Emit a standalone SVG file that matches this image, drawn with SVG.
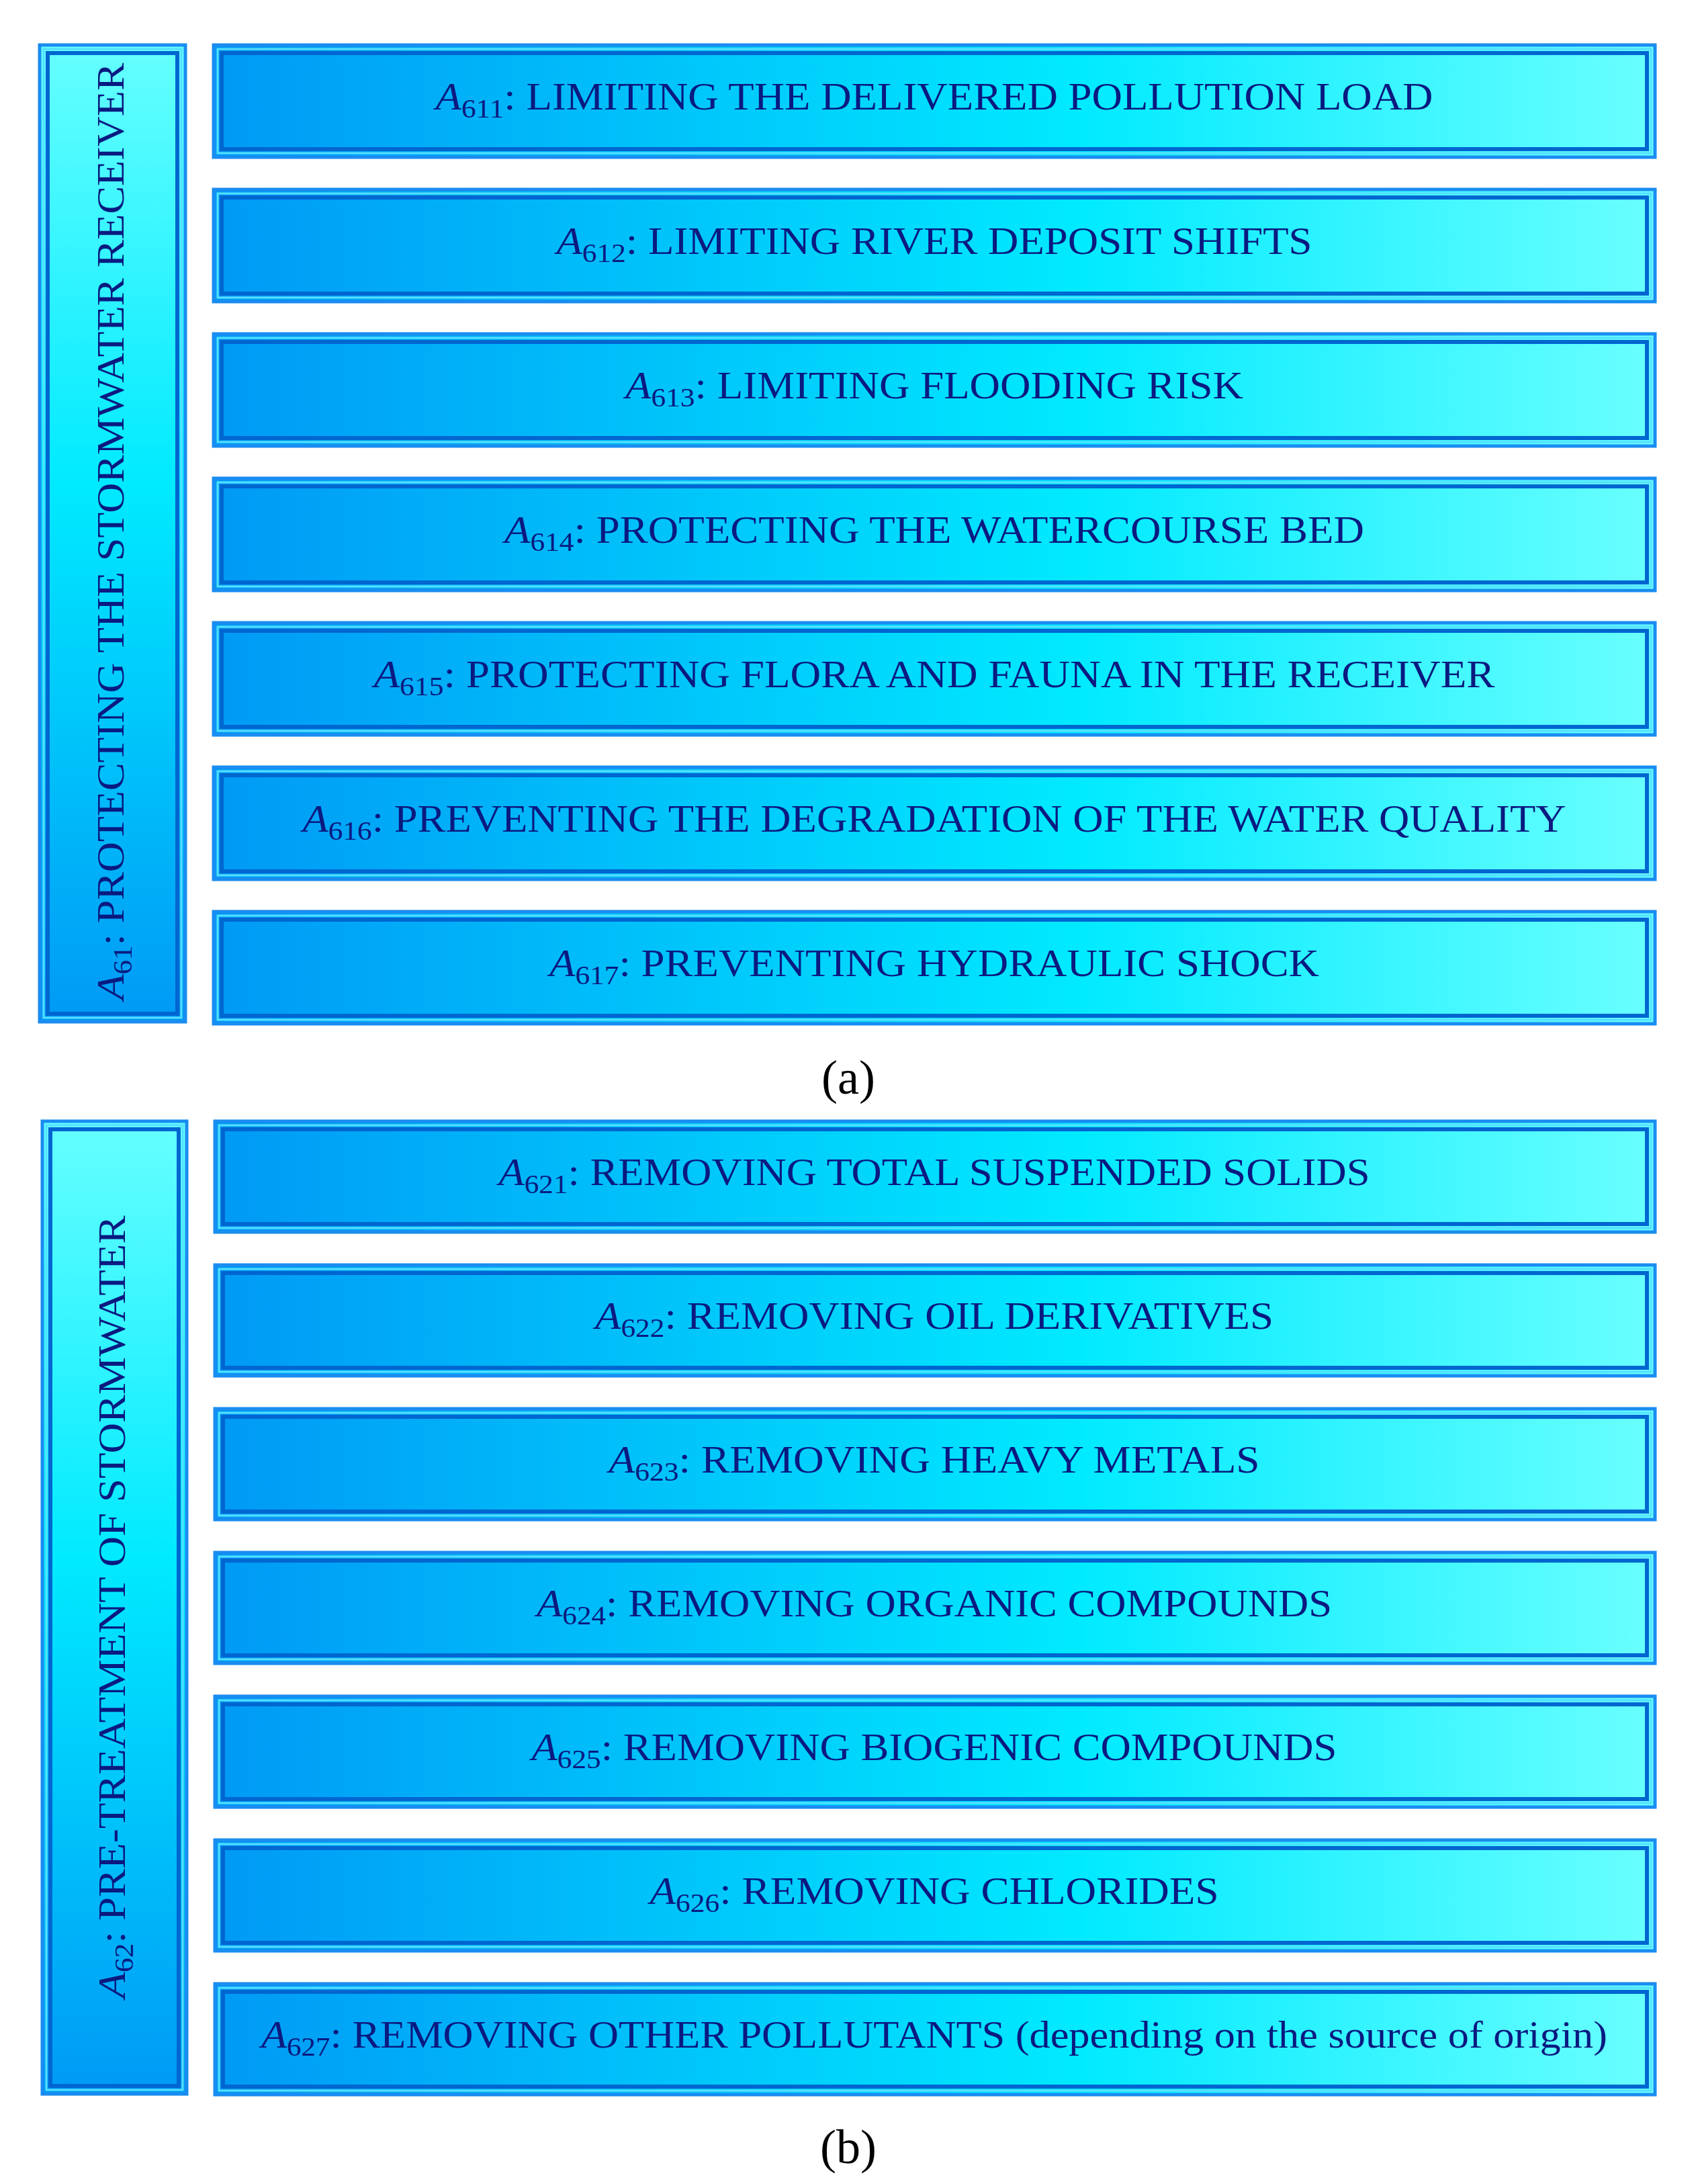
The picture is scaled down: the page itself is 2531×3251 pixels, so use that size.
<svg xmlns="http://www.w3.org/2000/svg" width="2531" height="3251" viewBox="0 0 2531 3251">
<defs>
<linearGradient id="gh" x1="0" y1="0" x2="1" y2="0"><stop offset="0" stop-color="#0099f5"/><stop offset="0.6" stop-color="#00eaff"/><stop offset="1" stop-color="#6affff"/></linearGradient>
<linearGradient id="gv" x1="0" y1="0" x2="0" y2="1"><stop offset="0" stop-color="#66ffff"/><stop offset="0.45" stop-color="#00eaff"/><stop offset="1" stop-color="#0099f5"/></linearGradient>
</defs>
<style>
.o{stroke:#1a8cf0;stroke-width:5}
.m{fill:none;stroke:#55e0ff;stroke-width:3}
.i{fill:none;stroke:#0066d0;stroke-width:6}
text{font-family:"Liberation Serif",serif;fill:#0a1a80;font-size:58px}
.c{text-anchor:middle}
.s{font-size:40px}
.ai{font-style:italic}
.cap{font-size:72px;fill:#000;text-anchor:middle}
</style>
<g id="a61">
<rect x="59" y="67" width="217" height="1454" fill="url(#gv)" class="o"/>
<rect x="65" y="73" width="205" height="1442" class="m"/>
<rect x="71" y="79" width="193" height="1430" class="i"/>
<text transform="translate(184,791) rotate(-90)" class="c" textLength="1395" lengthAdjust="spacingAndGlyphs"><tspan class="ai">A</tspan><tspan class="s" dy="12">61</tspan><tspan dy="-12">: PROTECTING THE STORMWATER RECEIVER</tspan></text>
</g>
<g id="a62">
<rect x="63" y="1669" width="215" height="1448" fill="url(#gv)" class="o"/>
<rect x="69" y="1675" width="203" height="1436" class="m"/>
<rect x="75" y="1681" width="191" height="1424" class="i"/>
<text transform="translate(186,2392) rotate(-90)" class="c" textLength="1165" lengthAdjust="spacingAndGlyphs"><tspan class="ai">A</tspan><tspan class="s" dy="12">62</tspan><tspan dy="-12">: PRE-TREATMENT OF STORMWATER</tspan></text>
</g>
<g id="a611"><rect x="318" y="67" width="2146" height="167" fill="url(#gh)" class="o"/><rect x="324" y="73" width="2134" height="155" class="m"/><rect x="330" y="79" width="2122" height="143" class="i"/><text x="1391" y="163" class="c" textLength="1485" lengthAdjust="spacingAndGlyphs"><tspan class="ai">A</tspan><tspan class="s" dy="12">611</tspan><tspan dy="-12">: LIMITING THE DELIVERED POLLUTION LOAD</tspan></text></g>
<g id="a612"><rect x="318" y="282" width="2146" height="167" fill="url(#gh)" class="o"/><rect x="324" y="288" width="2134" height="155" class="m"/><rect x="330" y="294" width="2122" height="143" class="i"/><text x="1391" y="378" class="c" textLength="1125" lengthAdjust="spacingAndGlyphs"><tspan class="ai">A</tspan><tspan class="s" dy="12">612</tspan><tspan dy="-12">: LIMITING RIVER DEPOSIT SHIFTS</tspan></text></g>
<g id="a613"><rect x="318" y="497" width="2146" height="167" fill="url(#gh)" class="o"/><rect x="324" y="503" width="2134" height="155" class="m"/><rect x="330" y="509" width="2122" height="143" class="i"/><text x="1391" y="593" class="c" textLength="920" lengthAdjust="spacingAndGlyphs"><tspan class="ai">A</tspan><tspan class="s" dy="12">613</tspan><tspan dy="-12">: LIMITING FLOODING RISK</tspan></text></g>
<g id="a614"><rect x="318" y="712" width="2146" height="167" fill="url(#gh)" class="o"/><rect x="324" y="718" width="2134" height="155" class="m"/><rect x="330" y="724" width="2122" height="143" class="i"/><text x="1391" y="808" class="c" textLength="1280" lengthAdjust="spacingAndGlyphs"><tspan class="ai">A</tspan><tspan class="s" dy="12">614</tspan><tspan dy="-12">: PROTECTING THE WATERCOURSE BED</tspan></text></g>
<g id="a615"><rect x="318" y="927" width="2146" height="167" fill="url(#gh)" class="o"/><rect x="324" y="933" width="2134" height="155" class="m"/><rect x="330" y="939" width="2122" height="143" class="i"/><text x="1391" y="1023" class="c" textLength="1669" lengthAdjust="spacingAndGlyphs"><tspan class="ai">A</tspan><tspan class="s" dy="12">615</tspan><tspan dy="-12">: PROTECTING FLORA AND FAUNA IN THE RECEIVER</tspan></text></g>
<g id="a616"><rect x="318" y="1142" width="2146" height="167" fill="url(#gh)" class="o"/><rect x="324" y="1148" width="2134" height="155" class="m"/><rect x="330" y="1154" width="2122" height="143" class="i"/><text x="1391" y="1238" class="c" textLength="1881" lengthAdjust="spacingAndGlyphs"><tspan class="ai">A</tspan><tspan class="s" dy="12">616</tspan><tspan dy="-12">: PREVENTING THE DEGRADATION OF THE WATER QUALITY</tspan></text></g>
<g id="a617"><rect x="318" y="1357" width="2146" height="167" fill="url(#gh)" class="o"/><rect x="324" y="1363" width="2134" height="155" class="m"/><rect x="330" y="1369" width="2122" height="143" class="i"/><text x="1391" y="1453" class="c" textLength="1146" lengthAdjust="spacingAndGlyphs"><tspan class="ai">A</tspan><tspan class="s" dy="12">617</tspan><tspan dy="-12">: PREVENTING HYDRAULIC SHOCK</tspan></text></g>
<text x="1263" y="1628" class="cap">(a)</text>
<g id="a621"><rect x="320" y="1669" width="2144" height="165" fill="url(#gh)" class="o"/><rect x="326" y="1675" width="2132" height="153" class="m"/><rect x="332" y="1681" width="2120" height="141" class="i"/><text x="1391" y="1764" class="c" textLength="1297" lengthAdjust="spacingAndGlyphs"><tspan class="ai">A</tspan><tspan class="s" dy="12">621</tspan><tspan dy="-12">: REMOVING TOTAL SUSPENDED SOLIDS</tspan></text></g>
<g id="a622"><rect x="320" y="1883" width="2144" height="165" fill="url(#gh)" class="o"/><rect x="326" y="1889" width="2132" height="153" class="m"/><rect x="332" y="1895" width="2120" height="141" class="i"/><text x="1391" y="1978" class="c" textLength="1010" lengthAdjust="spacingAndGlyphs"><tspan class="ai">A</tspan><tspan class="s" dy="12">622</tspan><tspan dy="-12">: REMOVING OIL DERIVATIVES</tspan></text></g>
<g id="a623"><rect x="320" y="2097" width="2144" height="165" fill="url(#gh)" class="o"/><rect x="326" y="2103" width="2132" height="153" class="m"/><rect x="332" y="2109" width="2120" height="141" class="i"/><text x="1391" y="2192" class="c" textLength="969" lengthAdjust="spacingAndGlyphs"><tspan class="ai">A</tspan><tspan class="s" dy="12">623</tspan><tspan dy="-12">: REMOVING HEAVY METALS</tspan></text></g>
<g id="a624"><rect x="320" y="2311" width="2144" height="165" fill="url(#gh)" class="o"/><rect x="326" y="2317" width="2132" height="153" class="m"/><rect x="332" y="2323" width="2120" height="141" class="i"/><text x="1391" y="2406" class="c" textLength="1184" lengthAdjust="spacingAndGlyphs"><tspan class="ai">A</tspan><tspan class="s" dy="12">624</tspan><tspan dy="-12">: REMOVING ORGANIC COMPOUNDS</tspan></text></g>
<g id="a625"><rect x="320" y="2525" width="2144" height="165" fill="url(#gh)" class="o"/><rect x="326" y="2531" width="2132" height="153" class="m"/><rect x="332" y="2537" width="2120" height="141" class="i"/><text x="1391" y="2620" class="c" textLength="1199" lengthAdjust="spacingAndGlyphs"><tspan class="ai">A</tspan><tspan class="s" dy="12">625</tspan><tspan dy="-12">: REMOVING BIOGENIC COMPOUNDS</tspan></text></g>
<g id="a626"><rect x="320" y="2739" width="2144" height="165" fill="url(#gh)" class="o"/><rect x="326" y="2745" width="2132" height="153" class="m"/><rect x="332" y="2751" width="2120" height="141" class="i"/><text x="1391" y="2834" class="c" textLength="847" lengthAdjust="spacingAndGlyphs"><tspan class="ai">A</tspan><tspan class="s" dy="12">626</tspan><tspan dy="-12">: REMOVING CHLORIDES</tspan></text></g>
<g id="a627"><rect x="320" y="2953" width="2144" height="165" fill="url(#gh)" class="o"/><rect x="326" y="2959" width="2132" height="153" class="m"/><rect x="332" y="2965" width="2120" height="141" class="i"/><text x="1391" y="3048" class="c" textLength="2004" lengthAdjust="spacingAndGlyphs"><tspan class="ai">A</tspan><tspan class="s" dy="12">627</tspan><tspan dy="-12">: REMOVING OTHER POLLUTANTS (depending on the source of origin)</tspan></text></g>
<text x="1263" y="3220" class="cap">(b)</text>
</svg>
